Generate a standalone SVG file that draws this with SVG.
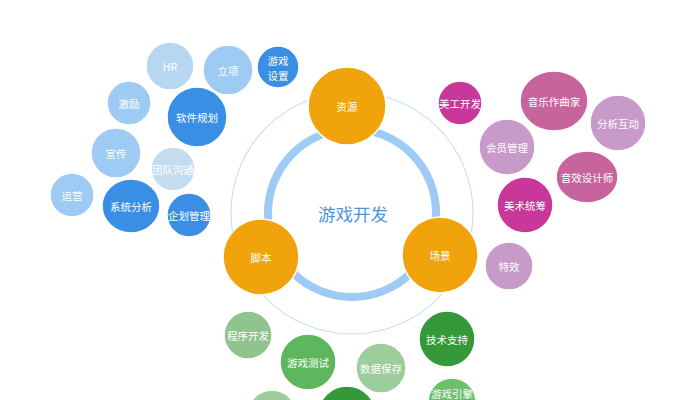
<svg xmlns="http://www.w3.org/2000/svg" width="674" height="400" viewBox="0 0 674 400">
<style>
text{font-family:"Noto Sans CJK SC","Noto Sans",sans-serif;fill:#fff;font-size:10.5px;text-anchor:middle;dominant-baseline:central}
.c{stroke:#fff;stroke-width:1.5}
.o{fill:#f0a30a}
.lb{fill:#b7d7f1}
.mb{fill:#9dcbf3}
.db{fill:#3a8fe4}
.mg{fill:#c9379b}
.rp{fill:#c8649c}
.lp{fill:#c79ac9}
.lg{fill:#8fc48f}
.mgr{fill:#5db85d}
.pg{fill:#9dcc9d}
.dg{fill:#35993a}
</style>
<rect width="674" height="400" fill="#fff"/>
<g id="connectors">
<circle cx="352" cy="213" r="121" fill="none" stroke="#c9e0f3" stroke-width="1.2"/>
<circle cx="352" cy="213" r="84" fill="none" stroke="#9dcbf5" stroke-width="8"/>
</g>
<g id="center"><text x="353" y="213" style="fill:#4f94dc;font-size:17.5px">游戏开发</text></g>
<g id="ziyuan"><circle class="c o" cx="347" cy="106" r="39"/><text x="347" y="106">资源</text></g>
<g id="jiaoben"><circle class="c o" cx="261" cy="257" r="38"/><text x="261" y="257">脚本</text></g>
<g id="changjing"><circle class="c o" cx="440" cy="255" r="38"/><text x="440" y="255">场景</text></g>

<g id="hr"><circle class="c lb" cx="170" cy="66" r="24"/><text x="170" y="66">HR</text></g>
<g id="lixiang"><circle class="c mb" cx="228" cy="70" r="25"/><text x="228" y="70">立项</text></g>
<g id="youxishezhi"><circle class="c db" cx="278" cy="67" r="21"/><text x="278" y="60">游戏</text><text x="278" y="75">设置</text></g>
<g id="ruanjianguihua"><circle class="c db" cx="197" cy="117" r="30"/><text x="197" y="117">软件规划</text></g>
<g id="jili"><circle class="c mb" cx="129" cy="103" r="22"/><text x="129" y="103">激励</text></g>
<g id="xuanchuan"><circle class="c mb" cx="116" cy="153" r="25"/><text x="116" y="153">宣传</text></g>
<g id="tuandui"><circle class="c" style="fill:#c3dcef" cx="173" cy="169" r="22"/><text x="173" y="169">团队沟通</text></g>
<g id="yunying"><circle class="c mb" cx="72" cy="195" r="22"/><text x="72" y="195">运营</text></g>
<g id="xitong"><ellipse class="c db" cx="131" cy="206" rx="29" ry="27"/><text x="131" y="206">系统分析</text></g>
<g id="qihua"><circle class="c db" cx="189" cy="215" r="22"/><text x="189" y="215">企划管理</text></g>

<g id="meigong"><circle class="c mg" cx="460" cy="103" r="22"/><text x="460" y="103">美工开发</text></g>
<g id="yinyue"><ellipse class="c rp" cx="554" cy="101" rx="34" ry="30"/><text x="554" y="101">音乐作曲家</text></g>
<g id="fenxi"><circle class="c lp" cx="618" cy="123" r="28"/><text x="618" y="123">分析互动</text></g>
<g id="huiyuan"><circle class="c lp" cx="507" cy="147" r="28"/><text x="507" y="147">会员管理</text></g>
<g id="yinxiao"><ellipse class="c rp" cx="587" cy="177" rx="31" ry="26"/><text x="587" y="177">音效设计师</text></g>
<g id="meishu"><circle class="c mg" cx="525" cy="205" r="28"/><text x="525" y="205">美术统筹</text></g>
<g id="texiao"><circle class="c lp" cx="509" cy="266" r="24"/><text x="509" y="266">特效</text></g>

<g id="chengxu"><circle class="c lg" cx="248" cy="335" r="24"/><text x="248" y="335">程序开发</text></g>
<g id="ceshi"><circle class="c mgr" cx="308" cy="362" r="28"/><text x="308" y="362">游戏测试</text></g>
<g id="shuju"><circle class="c pg" cx="381" cy="368" r="25"/><text x="381" y="368">数据保存</text></g>
<g id="jishu"><circle class="c dg" cx="447" cy="339" r="28"/><text x="447" y="339">技术支持</text></g>
<g id="yinqing"><circle class="c" style="fill:#6cc06c" cx="452" cy="402" r="24"/><text x="452" y="393">游戏引擎</text></g>
<g id="bl"><circle class="c pg" cx="272" cy="414" r="24"/></g>
<g id="bc"><circle class="c dg" cx="347" cy="415" r="29"/></g>
</svg>
